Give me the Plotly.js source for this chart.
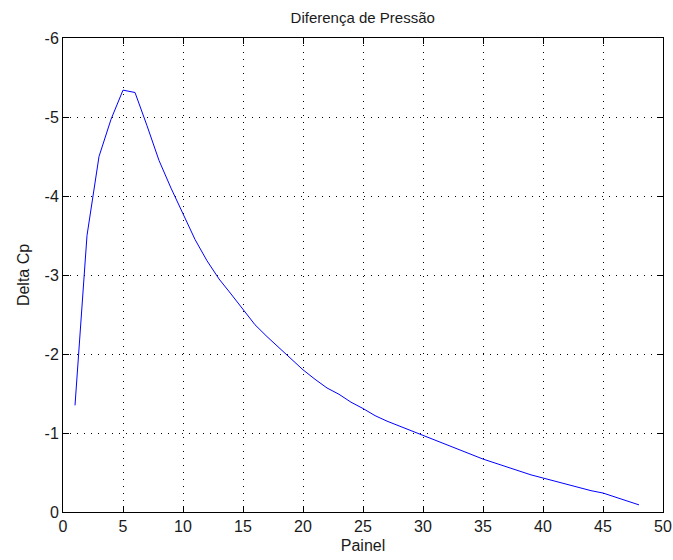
<!DOCTYPE html>
<html>
<head>
<meta charset="utf-8">
<script src="https://cdn.plot.ly/plotly-3.0.1.min.js"></script>
<style>html,body{margin:0;padding:0;background:#fff;}#chart{width:673px;height:560px;}</style>
</head>
<body>
<div id="chart"></div>
<script>
const painel = [1,2,3,4,5,6,7,8,9,10,11,12,13,14,15,16,17,18,19,20,21,22,23,24,25,26,27,28,29,30,31,32,33,34,35,36,37,38,39,40,41,42,43,44,45,46,47,48];
const deltaCp = [-1.35,-3.5,-4.5,-4.97,-5.34,-5.31,-4.89,-4.45,-4.1,-3.78,-3.45,-3.18,-2.95,-2.76,-2.57,-2.37,-2.22,-2.08,-1.94,-1.80,-1.68,-1.57,-1.49,-1.39,-1.31,-1.22,-1.15,-1.09,-1.03,-0.97,-0.90,-0.84,-0.78,-0.73,-0.67,-0.62,-0.57,-0.52,-0.47,-0.43,-0.39,-0.35,-0.31,-0.27,-0.24,-0.19,-0.14,-0.09];
const xTickVals = [0,5,10,15,20,25,30,35,40,45,50];
const xTickText = ["0","5","10","15","20","25","30","35","40","45","50"];
const yTickVals = [0,-1,-2,-3,-4,-5,-6];
const yTickText = ["0","-1","-2","-3","-4","-5","-6"];

const fam = "Liberation Sans, Arial, sans-serif";
const tickFont = {family: fam, size: 16, color: "#1a1a1a"};
const labelFont = {family: fam, size: 16, color: "#1a1a1a"};
const titleFont = {family: fam, size: 15, color: "#1a1a1a"};
const axisCommon = {
  showline: true, linecolor: "#000", linewidth: 1, mirror: "ticks",
  ticks: "inside", ticklen: 6, tickcolor: "#000", tickwidth: 1,
  showgrid: true, gridcolor: "#000", gridwidth: 1, griddash: "1px,6px",
  zeroline: false, tickfont: tickFont, fixedrange: true, automargin: false
};
Plotly.newPlot("chart", [{
  x: painel, y: deltaCp, type: "scatter", mode: "lines",
  line: {color: "#0000FF", width: 1}, hoverinfo: "none"
}], {
  width: 673, height: 560,
  margin: {l: 63, r: 10, t: 38, b: 48},
  paper_bgcolor: "#fff", plot_bgcolor: "#fff",
  font: tickFont, showlegend: false,
  title: {text: "Diferença de Pressão", font: titleFont, x: 0.539, xanchor: "center", y: 0.968, yanchor: "middle"},
  xaxis: Object.assign({}, axisCommon, {
    range: [0, 50], tickmode: "array", tickvals: xTickVals, ticktext: xTickText,
    title: {text: "Painel", font: labelFont, standoff: 5}
  }),
  yaxis: Object.assign({}, axisCommon, {
    range: [0, -6], tickmode: "array", tickvals: yTickVals, ticktext: yTickText,
    title: {text: "Delta Cp", font: labelFont, standoff: 10}
  })
}, {displayModeBar: false, staticPlot: true});
</script>
</body>
</html>
